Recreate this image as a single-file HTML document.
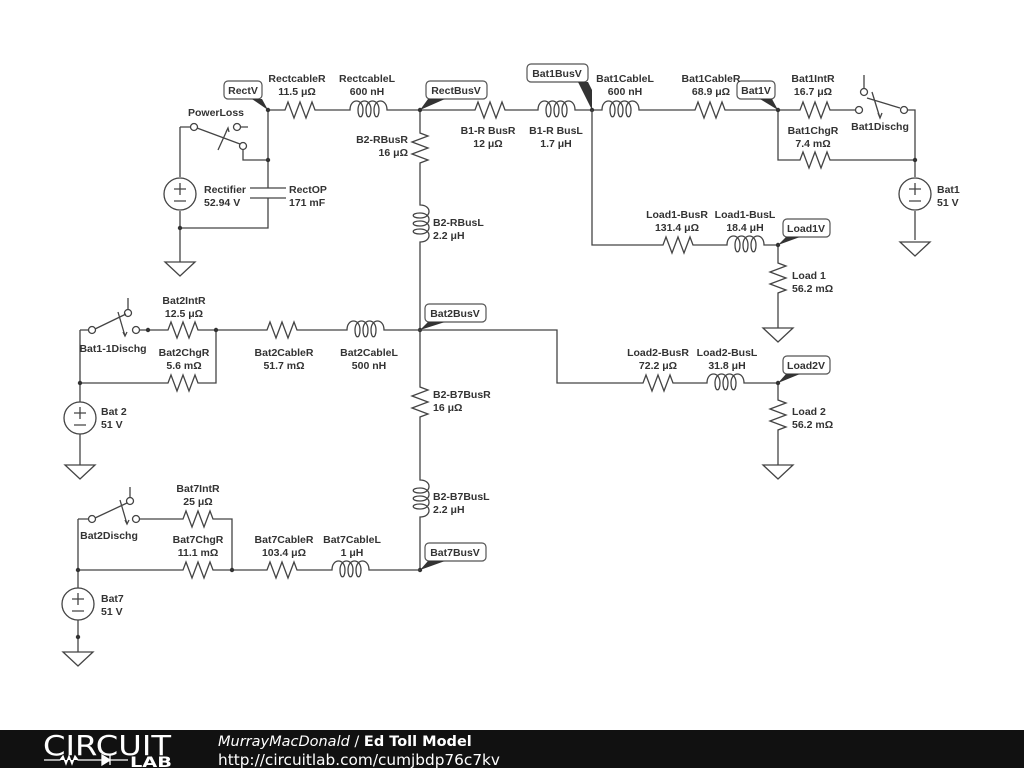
<!DOCTYPE html>
<html><head><meta charset="utf-8"><style>
html,body{margin:0;padding:0;background:#fff;}
svg{display:block;}
text{font-family:"Liberation Sans",sans-serif;font-weight:bold;font-size:10.5px;fill:#333;}
.w{stroke:#444;stroke-width:1.3;fill:none;}
</style></head><body>
<svg width="1024" height="768" viewBox="0 0 1024 768">
<defs>
<path id="rh" class="w" d="M0,0 L5,0 L8,-8 L14,8 L20,-8 L26,8 L32,-8 L35,0 L42,0"/>
<path id="rv" class="w" d="M0,0 L0,5 L8,8 L-8,14 L8,20 L-8,26 L8,32 L0,35 L0,42"/>
<path id="lh" class="w" d="M0,0 L2,0 c0,-12 13,-12 13,0 c0,9 -5,9 -5,0 c0,-12 13,-12 13,0 c0,9 -5,9 -5,0 c0,-12 13,-12 13,0 c0,9 -5,9 -5,0 c0,-12 13,-12 13,0 L42,0"/>
<path id="lv" class="w" d="M0,0 L0,2 c12,0 12,13 0,13 c-9,0 -9,-5 0,-5 c12,0 12,13 0,13 c-9,0 -9,-5 0,-5 c12,0 12,13 0,13 c-9,0 -9,-5 0,-5 c12,0 12,13 0,13 L0,42"/>
<g id="src"><circle class="w" cx="0" cy="0" r="16"/><path class="w" d="M-6,-5 L6,-5 M0,-11 L0,1 M-6,7 L6,7"/></g>
<path id="gnd" class="w" d="M-15,0 L15,0 L0,14 Z"/>
</defs>

<!-- top bus -->
<path class="w" d="M268,110 L280,110 M322,110 L348,110 M390,110 L470,110 M512,110 L536,110 M578,110 L600,110 M642,110 L690,110 M732,110 L795,110 M837,110 L855,110"/>
<use href="#rh" x="280" y="110"/>
<use href="#lh" x="348" y="110"/>
<use href="#rh" x="470" y="110"/>
<use href="#lh" x="536" y="110"/>
<use href="#lh" x="600" y="110"/>
<use href="#rh" x="690" y="110"/>
<use href="#rh" x="795" y="110"/>

<!-- rectifier section -->
<path class="w" d="M268,110 L268,188 M268,198 L268,228 L180,228 M180,127 L191,127 M180,127 L180,177 M180,211 L180,262 M243,149 L243,160 L268,160 M250,188 L286,188 M250,198 L286,198"/>
<circle class="w" cx="194" cy="127" r="3.5" fill="#fff"/>
<circle class="w" cx="243" cy="146" r="3.5" fill="#fff"/>
<circle class="w" cx="237" cy="127" r="3.5" fill="#fff"/>
<path class="w" d="M197,128 L240,144 M241,127 L248,127 M218,150 L228,128 M226,132 l2,-4 l1,4"/>
<use href="#src" x="180" y="194"/>
<use href="#gnd" x="180" y="262"/>
<circle cx="268" cy="160" r="2.2" fill="#333"/>
<circle cx="180" cy="228" r="2.2" fill="#333"/>
<circle cx="268" cy="110" r="2.2" fill="#333"/>

<!-- vertical bus -->
<path class="w" d="M420,110 L420,128 M420,170 L420,203 M420,245 L420,382 M420,424 L420,478 M420,520 L420,570"/>
<use href="#rv" x="420" y="128"/>
<use href="#lv" x="420" y="203"/>
<use href="#rv" x="420" y="382"/>
<use href="#lv" x="420" y="478"/>
<circle cx="420" cy="110" r="2.2" fill="#333"/>
<circle cx="420" cy="330" r="2.2" fill="#333"/>
<circle cx="420" cy="570" r="2.2" fill="#333"/>
<circle cx="592" cy="110" r="2.2" fill="#333"/>

<!-- Bat1 section -->
<path class="w" d="M778,110 L778,160 L795,160 M837,160 L915,160 M907,110 L915,110 L915,177 M915,211 L915,240 M864,75 L864,88 M867,98 L900,108 M872,92 L880,118 M878,113 l2,5 l2,-5"/>
<use href="#rh" x="795" y="160"/>
<circle class="w" cx="859" cy="110" r="3.5" fill="#fff"/>
<circle class="w" cx="864" cy="92" r="3.5" fill="#fff"/>
<circle class="w" cx="904" cy="110" r="3.5" fill="#fff"/>
<use href="#src" x="915" y="194"/>
<use href="#gnd" x="915" y="242"/>
<circle cx="915" cy="160" r="2.2" fill="#333"/>
<circle cx="778" cy="110" r="2.2" fill="#333"/>

<!-- Load1 -->
<path class="w" d="M592,110 L592,245 L658,245 M700,245 L725,245 M767,245 L778,245 L778,258 M778,300 L778,328"/>
<use href="#rh" x="658" y="245"/>
<use href="#lh" x="725" y="245"/>
<use href="#rv" x="778" y="258"/>
<use href="#gnd" x="778" y="328"/>
<circle cx="778" cy="245" r="2.2" fill="#333"/>

<!-- Bat2 -->
<path class="w" d="M80,330 L89,330 M80,330 L80,402 M80,434 L80,465 M140,330 L163,330 M205,330 L262,330 M304,330 L345,330 M387,330 L557,330 L557,383 L638,383 M680,383 L705,383 M747,383 L778,383 L778,395 M778,437 L778,465 M80,383 L163,383 M205,383 L216,383 L216,330 M128,298 L128,310 M95,329 L126,314 M118,312 L125,336 M123,332 l2,4 l2,-4"/>
<circle class="w" cx="92" cy="330" r="3.5" fill="#fff"/>
<circle class="w" cx="128" cy="313" r="3.5" fill="#fff"/>
<circle class="w" cx="136" cy="330" r="3.5" fill="#fff"/>
<circle cx="148" cy="330" r="2.2" fill="#333"/>
<use href="#rh" x="163" y="330"/>
<use href="#rh" x="163" y="383"/>
<use href="#rh" x="262" y="330"/>
<use href="#lh" x="345" y="330"/>
<use href="#rh" x="638" y="383"/>
<use href="#lh" x="705" y="383"/>
<use href="#rv" x="778" y="395"/>
<use href="#gnd" x="778" y="465"/>
<use href="#src" x="80" y="418"/>
<use href="#gnd" x="80" y="465"/>
<circle cx="216" cy="330" r="2.2" fill="#333"/>
<circle cx="80" cy="383" r="2.2" fill="#333"/>
<circle cx="778" cy="383" r="2.2" fill="#333"/>

<!-- Bat7 -->
<path class="w" d="M78,519 L89,519 M78,519 L78,588 M78,620 L78,652 M139,519 L178,519 M220,519 L232,519 L232,570 M78,570 L178,570 M220,570 L262,570 M304,570 L330,570 M372,570 L420,570 M130,487 L130,498 M95,518 L127,503 M120,500 L127,524 M125,520 l2,4 l2,-4"/>
<circle class="w" cx="92" cy="519" r="3.5" fill="#fff"/>
<circle class="w" cx="130" cy="501" r="3.5" fill="#fff"/>
<circle class="w" cx="136" cy="519" r="3.5" fill="#fff"/>
<use href="#rh" x="178" y="519"/>
<use href="#rh" x="178" y="570"/>
<use href="#rh" x="262" y="570"/>
<use href="#lh" x="330" y="570"/>
<use href="#src" x="78" y="604"/>
<use href="#gnd" x="78" y="652"/>
<circle cx="78" cy="570" r="2.2" fill="#333"/>
<circle cx="232" cy="570" r="2.2" fill="#333"/>
<circle cx="78" cy="637" r="2.2" fill="#333"/>

<!-- net labels -->
<g fill="#fff" stroke="#555" stroke-width="1.2">
<rect x="224" y="81" width="38" height="18" rx="4"/>
<rect x="426" y="81" width="61" height="18" rx="4"/>
<rect x="527" y="64" width="61" height="18" rx="4"/>
<rect x="737" y="81" width="38" height="18" rx="4"/>
<rect x="783" y="219" width="47" height="18" rx="4"/>
<rect x="425" y="304" width="61" height="18" rx="4"/>
<rect x="783" y="356" width="47" height="18" rx="4"/>
<rect x="425" y="543" width="61" height="18" rx="4"/>
</g>
<g fill="#333">
<polygon points="268,110 252,99 262,99"/>
<polygon points="420,110 428,99 445,99"/>
<polygon points="592,110 578,82 588,82 592,90"/>
<polygon points="778,110 760,99 772,99"/>
<polygon points="778,245 786,237 800,237"/>
<polygon points="420,330 428,322 445,322"/>
<polygon points="778,383 786,374 800,374"/>
<polygon points="420,570 428,561 445,561"/>
</g>
<text x="243" y="94" text-anchor="middle">RectV</text>
<text x="456" y="94" text-anchor="middle">RectBusV</text>
<text x="557" y="77" text-anchor="middle">Bat1BusV</text>
<text x="756" y="94" text-anchor="middle">Bat1V</text>
<text x="806" y="232" text-anchor="middle">Load1V</text>
<text x="455" y="317" text-anchor="middle">Bat2BusV</text>
<text x="806" y="369" text-anchor="middle">Load2V</text>
<text x="455" y="556" text-anchor="middle">Bat7BusV</text>

<!-- component labels -->
<g text-anchor="middle">
<text x="297" y="82">RectcableR</text><text x="297" y="95">11.5 μΩ</text>
<text x="367" y="82">RectcableL</text><text x="367" y="95">600 nH</text>
<text x="488" y="134">B1-R BusR</text><text x="488" y="147">12 μΩ</text>
<text x="556" y="134">B1-R BusL</text><text x="556" y="147">1.7 μH</text>
<text x="625" y="82">Bat1CableL</text><text x="625" y="95">600 nH</text>
<text x="711" y="82">Bat1CableR</text><text x="711" y="95">68.9 μΩ</text>
<text x="813" y="82">Bat1IntR</text><text x="813" y="95">16.7 μΩ</text>
<text x="813" y="134">Bat1ChgR</text><text x="813" y="147">7.4 mΩ</text>
<text x="880" y="130">Bat1Dischg</text>
<text x="677" y="218">Load1-BusR</text><text x="677" y="231">131.4 μΩ</text>
<text x="745" y="218">Load1-BusL</text><text x="745" y="231">18.4 μH</text>
<text x="216" y="116">PowerLoss</text>
<text x="184" y="304">Bat2IntR</text><text x="184" y="317">12.5 μΩ</text>
<text x="184" y="356">Bat2ChgR</text><text x="184" y="369">5.6 mΩ</text>
<text x="284" y="356">Bat2CableR</text><text x="284" y="369">51.7 mΩ</text>
<text x="369" y="356">Bat2CableL</text><text x="369" y="369">500 nH</text>
<text x="113" y="352">Bat1-1Dischg</text>
<text x="658" y="356">Load2-BusR</text><text x="658" y="369">72.2 μΩ</text>
<text x="727" y="356">Load2-BusL</text><text x="727" y="369">31.8 μH</text>
<text x="198" y="492">Bat7IntR</text><text x="198" y="505">25 μΩ</text>
<text x="198" y="543">Bat7ChgR</text><text x="198" y="556">11.1 mΩ</text>
<text x="284" y="543">Bat7CableR</text><text x="284" y="556">103.4 μΩ</text>
<text x="352" y="543">Bat7CableL</text><text x="352" y="556">1 μH</text>
<text x="109" y="539">Bat2Dischg</text>
</g>
<g text-anchor="end">
<text x="408" y="143">B2-RBusR</text><text x="408" y="156">16 μΩ</text>
</g>
<text x="433" y="226">B2-RBusL</text><text x="433" y="239">2.2 μH</text>
<text x="433" y="398">B2-B7BusR</text><text x="433" y="411">16 μΩ</text>
<text x="433" y="500">B2-B7BusL</text><text x="433" y="513">2.2 μH</text>
<text x="204" y="193">Rectifier</text><text x="204" y="206">52.94 V</text>
<text x="289" y="193">RectOP</text><text x="289" y="206">171 mF</text>
<text x="937" y="193">Bat1</text><text x="937" y="206">51 V</text>
<text x="792" y="279">Load 1</text><text x="792" y="292">56.2 mΩ</text>
<text x="792" y="415">Load 2</text><text x="792" y="428">56.2 mΩ</text>
<text x="101" y="415">Bat 2</text><text x="101" y="428">51 V</text>
<text x="101" y="602">Bat7</text><text x="101" y="615">51 V</text>

<!-- footer -->
<rect x="0" y="730" width="1024" height="38" fill="#111"/>
<text x="43" y="755" textLength="128" lengthAdjust="spacingAndGlyphs" style="font-family:'DejaVu Sans',sans-serif;font-weight:normal;font-size:28px;fill:#fff">CIRCUIT</text>
<path d="M44,760 L60,760 l3,-4 l3,8 l3,-8 l3,8 l3,-8 l3,4 L102,760 M102,755 L102,765 L110,760 Z M110,755 L110,765 M110,760 L128,760" stroke="#fff" stroke-width="1.3" fill="#fff"/>
<text x="130" y="767" textLength="42" lengthAdjust="spacingAndGlyphs" style="font-family:'DejaVu Sans',sans-serif;font-size:14px;fill:#fff">LAB</text>
<text x="218" y="746" style="font-family:'DejaVu Sans',sans-serif;font-weight:normal;font-style:italic;font-size:14.5px;fill:#fff">MurrayMacDonald <tspan style="font-style:normal">/</tspan> <tspan style="font-weight:bold;font-style:normal">Ed Toll Model</tspan></text>
<text x="218" y="765" textLength="282" lengthAdjust="spacingAndGlyphs" style="font-family:'DejaVu Sans',sans-serif;font-weight:normal;font-size:15px;fill:#fff">http://circuitlab.com/cumjbdp76c7kv</text>
</svg>
</body></html>
